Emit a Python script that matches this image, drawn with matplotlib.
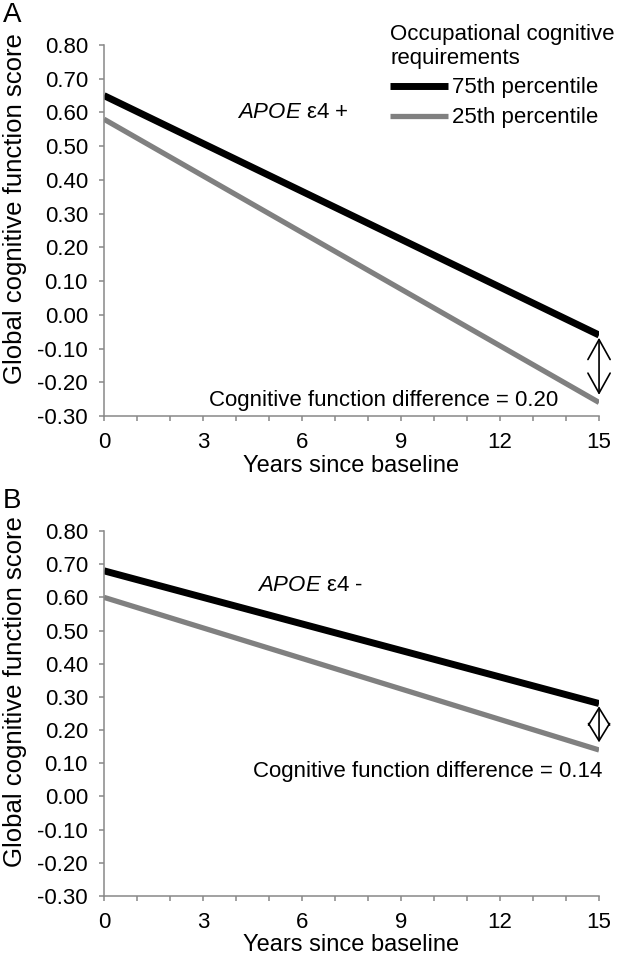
#!/usr/bin/env python3
"""Global cognitive function over 15 years by occupational cognitive requirements."""

import matplotlib

matplotlib.use("Agg")
import matplotlib.pyplot as plt
from matplotlib.ticker import MultipleLocator

plt.rcParams["font.family"] = ["Liberation Sans", "DejaVu Sans"]
plt.rcParams["mathtext.fontset"] = "custom"
plt.rcParams["mathtext.it"] = "Liberation Sans:italic"
plt.rcParams["mathtext.rm"] = "Liberation Sans"

YEARS = [0, 15]
SERIES_LABELS = ["75th percentile", "25th percentile"]

# panel A: APOE e4 carriers
A_HIGH = [0.65, -0.06]
A_LOW = [0.58, -0.26]
# panel B: APOE e4 non-carriers
B_HIGH = [0.68, 0.28]
B_LOW = [0.60, 0.14]

DIFF_A = 0.20
DIFF_B = 0.14
LEGEND_TITLE = "Occupational cognitive\nrequirements"

BLACK = "#000000"
GRAY = "#808080"
SPINE = "#888888"
FS = 16


def draw_panel(ax, high, low, group_sign, group_xy, diff, diff_xy, head, letter, letter_y):
    ax.plot(YEARS, high, color=BLACK, linewidth=5.0, solid_capstyle="butt", label=SERIES_LABELS[0])
    ax.plot(YEARS, low, color=GRAY, linewidth=3.8, solid_capstyle="butt", label=SERIES_LABELS[1])

    ax.set_xlim(0, 15)
    ax.set_ylim(-0.3, 0.8)
    ax.xaxis.set_major_locator(MultipleLocator(3))
    ax.xaxis.set_minor_locator(MultipleLocator(1))
    ax.yaxis.set_major_locator(MultipleLocator(0.1))
    ax.yaxis.set_major_formatter(lambda v, _: f"{v:.2f}")
    for side in ("top", "right"):
        ax.spines[side].set_visible(False)
    for side in ("left", "bottom"):
        ax.spines[side].set_color(SPINE)
        ax.spines[side].set_linewidth(1.1)
    ax.tick_params(which="both", direction="out", color=SPINE, width=1.1, length=3.6,
                   labelsize=FS, pad=8)
    ax.set_xlabel("Years since baseline", fontsize=17)
    ax.xaxis.set_label_coords(0.5, -0.105)
    ax.set_ylabel("Global cognitive function score", fontsize=18.5)
    ax.yaxis.set_label_coords(-0.155, 0.56)

    ax.text(group_xy[0], group_xy[1], f"$\\mathit{{APOE}}$ ε4 {group_sign}", fontsize=FS,
            va="center", ha="left")
    ax.text(diff_xy[0], diff_xy[1], f"Cognitive function difference = {diff:.2f}", fontsize=FS,
            va="center", ha="right")

    ax.annotate("", xy=(YEARS[-1], low[-1]), xytext=(YEARS[-1], high[-1]),
                arrowprops=dict(arrowstyle=f"<->,head_length={head[0]},head_width={head[1]}",
                                color=BLACK, lw=1.2, shrinkA=2, shrinkB=5.5, mutation_scale=20),
                annotation_clip=False)
    ax.text(3 / 624, letter_y, letter, transform=ax.figure.transFigure, fontsize=20,
            va="top", ha="left")


def main() -> int:
    fig = plt.figure(figsize=(6.24, 9.66), dpi=100)
    ax_a = fig.add_axes([0.1667, 0.5694, 0.7933, 0.384])
    ax_b = fig.add_axes([0.1667, 0.0725, 0.7933, 0.3778])

    draw_panel(ax_a, A_HIGH, A_LOW, "+", (4.03, 0.60), DIFF_A, (13.76, -0.255), (0.72, 0.4),
               "A", 1 - 2 / 966)
    draw_panel(ax_b, B_HIGH, B_LOW, "-", (4.64, 0.635), DIFF_B, (15.1, 0.075), (0.62, 0.38),
               "B", 1 - 488 / 966)

    leg = ax_a.legend(loc="upper left", bbox_to_anchor=(390 / 624, 1 - 24 / 966),
                      bbox_transform=fig.transFigure, frameon=False, title=LEGEND_TITLE,
                      fontsize=FS, title_fontsize=FS, handlelength=2.6, handletextpad=0.18,
                      borderpad=0, borderaxespad=0, labelspacing=0.4, alignment="left")
    leg.get_title().set_linespacing(1.16)

    fig.savefig("out.png", dpi=100)
    plt.close(fig)
    return 0


if __name__ == "__main__":
    raise SystemExit(main())
